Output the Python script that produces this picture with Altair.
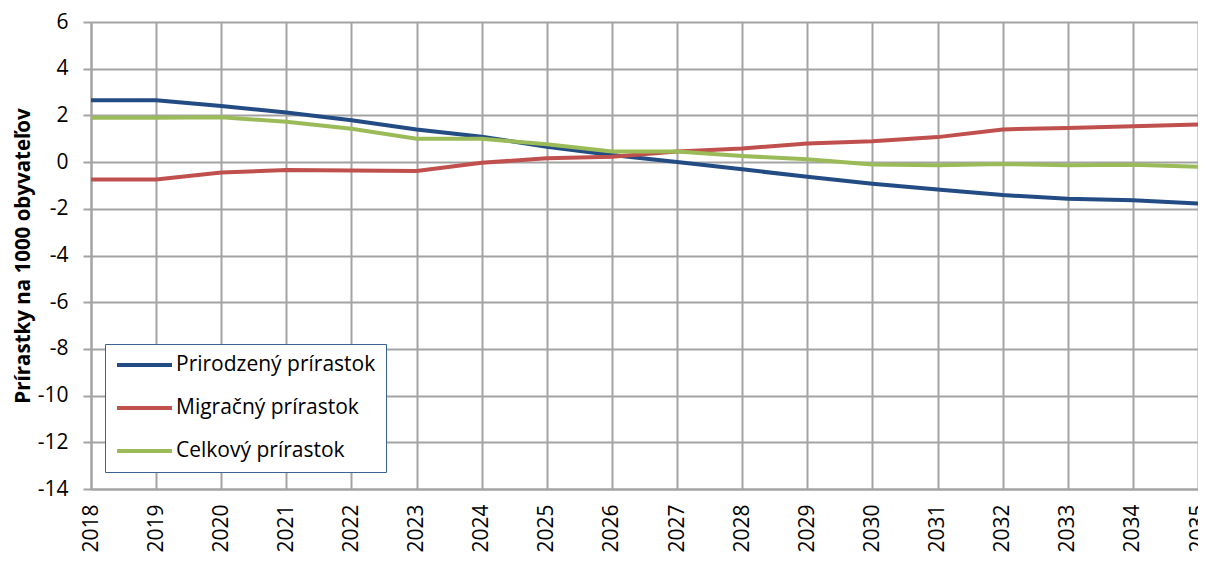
import altair as alt
import pandas as pd

years = list(range(2018, 2036))
prirodzeny = [2.65, 2.65, 2.4, 2.12, 1.79, 1.4, 1.09, 0.66, 0.3, 0.0, -0.31, -0.63, -0.93, -1.17, -1.41, -1.57, -1.63, -1.77]
migracny = [-0.74, -0.74, -0.45, -0.34, -0.36, -0.38, -0.03, 0.16, 0.23, 0.45, 0.58, 0.8, 0.89, 1.07, 1.4, 1.46, 1.54, 1.61]
celkovy = [1.9, 1.9, 1.92, 1.73, 1.43, 1.0, 1.0, 0.76, 0.45, 0.45, 0.26, 0.12, -0.1, -0.14, -0.08, -0.14, -0.11, -0.2]

series_names = ["Prirodzený prírastok", "Migračný prírastok", "Celkový prírastok"]
series_colors = ["#234C84", "#C0504D", "#9BBB59"]
y_ticks = list(range(-14, 7, 2))

rows = []
for name, vals in zip(series_names, [prirodzeny, migracny, celkovy]):
    for yr, v in zip(years, vals):
        rows.append({"rok": yr, "hodnota": v, "seria": name})
df = pd.DataFrame(rows)

FONT = "Open Sans"
GRID = "#a3a3a3"

chart = alt.Chart(df).mark_line(strokeWidth=4).encode(
    x=alt.X("rok:Q",
            scale=alt.Scale(domain=[2018, 2035], nice=False, zero=False),
            axis=alt.Axis(values=years, format="d", labelAngle=-90, title=None,
                          grid=True, gridColor=GRID, gridWidth=2,
                          domainColor=GRID, domainWidth=2,
                          ticks=False, tickSize=0,
                          labelFont=FONT, labelFontSize=21, labelColor="#000000",
                          labelPadding=15, labelOverlap=False, labelFlush=False)),
    y=alt.Y("hodnota:Q",
            scale=alt.Scale(domain=[-14, 6], nice=False),
            axis=alt.Axis(values=y_ticks, title="Prírastky na 1000 obyvateľov",
                          labelExpr="'' + datum.value",
                          grid=True, gridColor=GRID, gridWidth=2,
                          domainColor=GRID, domainWidth=2,
                          tickColor=GRID, tickWidth=2, tickSize=8,
                          labelFont=FONT, labelFontSize=21, labelColor="#000000",
                          labelPadding=15,
                          titleFont=FONT, titleFontSize=20.5, titleFontWeight="bold",
                          titleColor="#000000", titlePadding=4)),
    color=alt.Color("seria:N",
                    scale=alt.Scale(domain=series_names, range=series_colors),
                    sort=series_names,
                    legend=alt.Legend(title=None, orient="none", legendX=14, legendY=322,
                                      symbolType="stroke", symbolSize=3025,
                                      symbolStrokeWidth=4, clipHeight=22,
                                      labelFont=FONT, labelFontSize=21, labelColor="#000000",
                                      labelLimit=400, labelOffset=2,
                                      fillColor="white", strokeColor="#3B6392",
                                      padding=10, rowPadding=21)),
).properties(
    width=1107, height=467,
    autosize=alt.AutoSizeParams(type="none"),
    padding={"left": 83, "top": 14, "right": 0, "bottom": 65},
).configure_view(stroke=None).configure(background="white")

chart.save("out.html", embed_options={"renderer": "svg", "actions": False})
